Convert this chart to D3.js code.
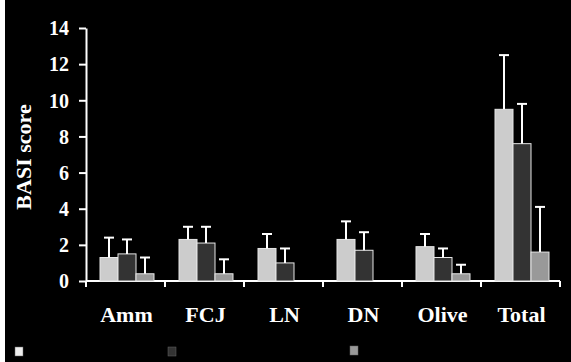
<!DOCTYPE html>
<html>
<head>
<meta charset="utf-8">
<script src="https://cdn.jsdelivr.net/npm/d3@7"></script>
<style>
  html, body { margin: 0; padding: 0; background: #fff; }
  svg { display: block; }
  text { font-family: "Liberation Serif", "Times New Roman", serif; font-weight: bold; fill: #fff; }
</style>
</head>
<body>
<div id="chart"></div>
<script>
const categories = ['Amm', 'FCJ', 'LN', 'DN', 'Olive', 'Total'];
const series = ['Group 1', 'Group 2', 'Group 3'];
const colors = ['#cccccc', '#333333', '#999999'];
const means = [
  [1.3, 2.3, 1.8, 2.3, 1.9, 9.5],
  [1.5, 2.1, 1.0, 1.7, 1.3, 7.6],
  [0.4, 0.4, 0.0, 0.0, 0.4, 1.6],
];
const errTops = [
  [2.4, 3.0, 2.6, 3.3, 2.6, 12.5],
  [2.3, 3.0, 1.8, 2.7, 1.8, 9.8],
  [1.3, 1.2, 0.0, 0.0, 0.9, 4.1],
];
const yTicks = [0, 2, 4, 6, 8, 10, 12, 14];

const W = 571, H = 362;
const m = { t: 28, r: 11, b: 81, l: 86 };
const svg = d3.select('#chart').append('svg').attr('width', W).attr('height', H);
svg.append('rect').attr('x', 5).attr('y', 0).attr('width', W - 5).attr('height', H).attr('fill', '#000');

const x = d3.scaleBand().domain(categories).range([m.l, W - m.r]);
const xs = d3.scaleBand().domain(d3.range(series.length)).range([14, 68]);
const y = d3.scaleLinear().domain([0, 14]).range([H - m.b, m.t]);

// axes
const ax = svg.append('g').attr('transform', `translate(${m.l},0)`)
  .call(d3.axisLeft(y).tickValues(yTicks).tickSize(7).tickPadding(10).tickSizeOuter(0));
ax.select('.domain').attr('stroke', '#fff').attr('stroke-width', 2);
ax.selectAll('.tick line').attr('stroke', '#fff').attr('stroke-width', 2);
ax.selectAll('.tick text').attr('font-size', 20).attr('fill', '#fff').attr('font-family', null).attr('dy', '0.34em');

const bx = svg.append('g').attr('transform', `translate(0,${H - m.b})`);
bx.append('line').attr('x1', m.l).attr('x2', W - m.r).attr('stroke', '#fff').attr('stroke-width', 2);
bx.selectAll('line.tk').data(d3.range(categories.length + 1)).join('line').attr('class', 'tk')
  .attr('x1', i => m.l + i * x.step()).attr('x2', i => m.l + i * x.step())
  .attr('y1', 0).attr('y2', 6).attr('stroke', '#fff').attr('stroke-width', 2);
bx.selectAll('text').data(categories).join('text')
  .attr('x', d => x(d) + x.bandwidth() / 2 + 1).attr('y', 41)
  .attr('text-anchor', 'middle').attr('font-size', 22).text(d => d);

svg.append('text').attr('transform', `translate(31,157) rotate(-90)`)
  .attr('text-anchor', 'middle').attr('font-size', 22).text('BASI score');

// bars
const rows = [];
series.forEach((s, si) => categories.forEach((c, ci) => rows.push({ si, c, v: means[si][ci], e: errTops[si][ci] })));
const g = svg.append('g');
g.selectAll('rect').data(rows.filter(d => d.v > 0)).join('rect')
  .attr('x', d => x(d.c) + xs(d.si)).attr('width', xs.bandwidth())
  .attr('y', d => y(d.v)).attr('height', d => y(0) - y(d.v))
  .attr('fill', d => colors[d.si]).attr('stroke', '#e6e6e6').attr('stroke-width', 1);

const eb = rows.filter(d => d.e > d.v);
g.selectAll('line.ev').data(eb).join('line').attr('class', 'ev')
  .attr('x1', d => x(d.c) + xs(d.si) + xs.bandwidth() / 2).attr('x2', d => x(d.c) + xs(d.si) + xs.bandwidth() / 2)
  .attr('y1', d => y(d.v)).attr('y2', d => y(d.e)).attr('stroke', '#fff').attr('stroke-width', 2);
g.selectAll('line.ec').data(eb).join('line').attr('class', 'ec')
  .attr('x1', d => x(d.c) + xs(d.si) + xs.bandwidth() / 2 - 5).attr('x2', d => x(d.c) + xs(d.si) + xs.bandwidth() / 2 + 5)
  .attr('y1', d => y(d.e)).attr('y2', d => y(d.e)).attr('stroke', '#fff').attr('stroke-width', 2);

// legend (swatches only)
const legX = [15, 168, 350];
const legFill = ['#eeeeee', '#333333', '#999999'];
svg.append('g').selectAll('rect').data(series).join('rect')
  .attr('x', (d, i) => legX[i]).attr('y', (d, i) => i === 2 ? 346 : 347)
  .attr('width', 8).attr('height', 9)
  .attr('fill', (d, i) => legFill[i]).attr('stroke', '#666').attr('stroke-width', 0.5);
</script>
</body>
</html>
